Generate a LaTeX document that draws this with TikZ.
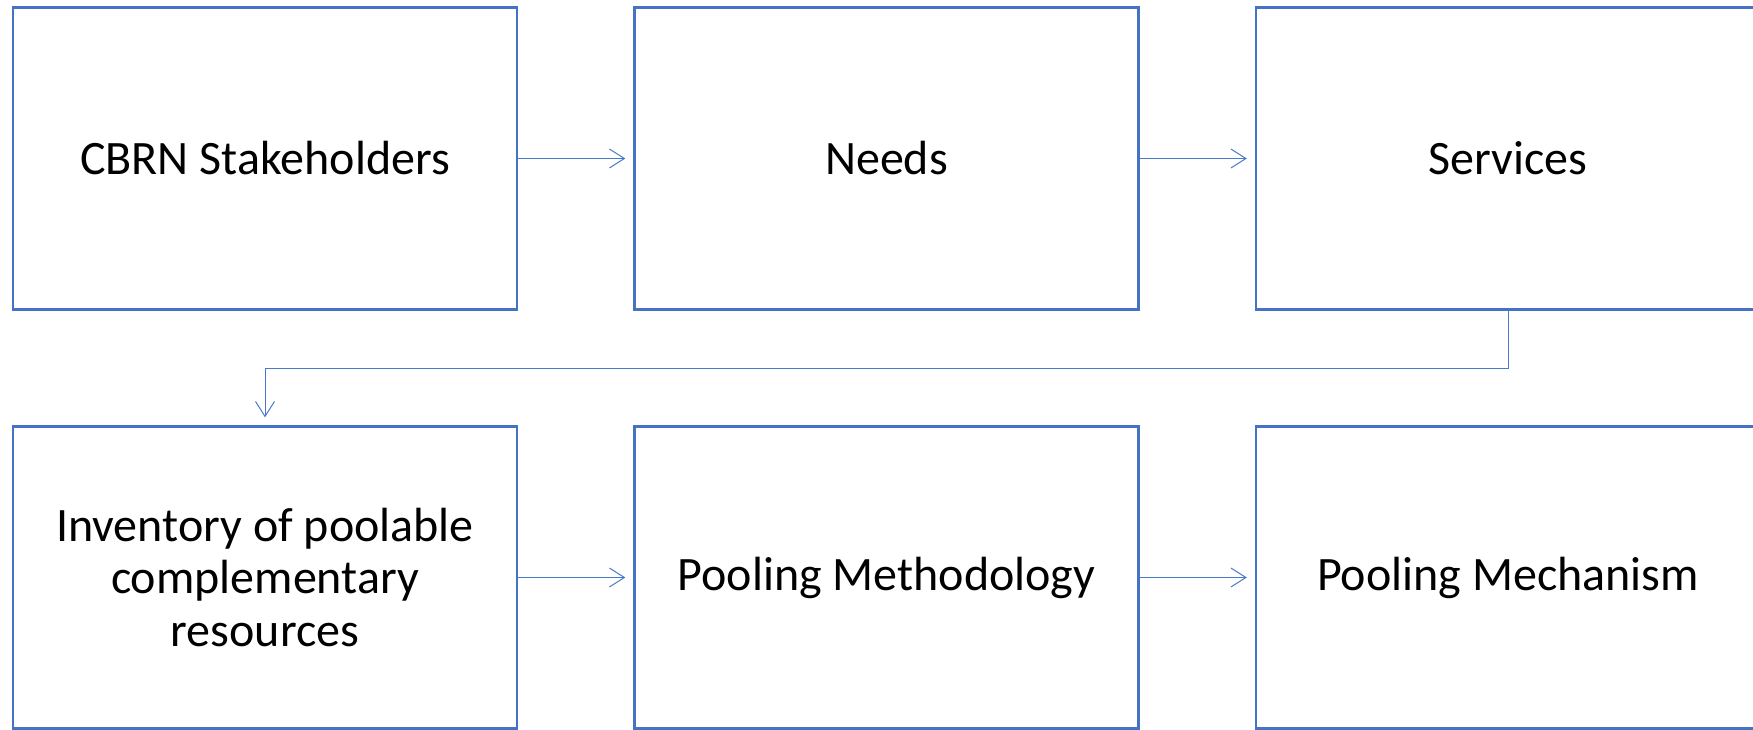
\documentclass[tikz,border=0pt]{standalone}
\usepackage{fontspec}
\setmainfont{Carlito}
\usetikzlibrary{arrows.meta}
\definecolor{boxblue}{HTML}{4472C4}
\definecolor{linkblue}{HTML}{4A78CC}
\tikzset{
  stepbox/.style={draw=boxblue, line width=2.3pt, fill=white, minimum width=504pt,
    minimum height=302pt, inner sep=0pt, align=center,
    font=\fontsize{48}{52.5}\selectfont},
  link/.style={draw=linkblue, line width=1pt,
    -{Straight Barb[length=15pt, width=19pt, line width=1pt]}, shorten >=8pt}
}
\begin{document}
\begin{tikzpicture}[x=1pt, y=-1pt]
  \useasboundingbox (0,0) rectangle (1753,730);
  \clip (0,0) rectangle (1753,730);
  % top row
  \node[stepbox] (stake) at (265,158.5) {CBRN Stakeholders};
  \node[stepbox] (needs) at (886.5,158.5) {Needs};
  \node[stepbox] (serv)  at (1508,158.5) {Services};
  % bottom row
  \node[stepbox] (inv)   at (265,577.5) {Inventory of poolable\\complementary\\resources};
  \node[stepbox] (meth)  at (886.5,577.5) {Pooling Methodology};
  \node[stepbox] (mech)  at (1508,577.5) {Pooling Mechanism};
  % flow
  \draw[link] (stake.east) -- (needs.west);
  \draw[link] (needs.east) -- (serv.west);
  \draw[link] (serv.south) -- ++(0,58) -| (inv.north);
  \draw[link] (inv.east) -- (meth.west);
  \draw[link] (meth.east) -- (mech.west);
\end{tikzpicture}
\end{document}
